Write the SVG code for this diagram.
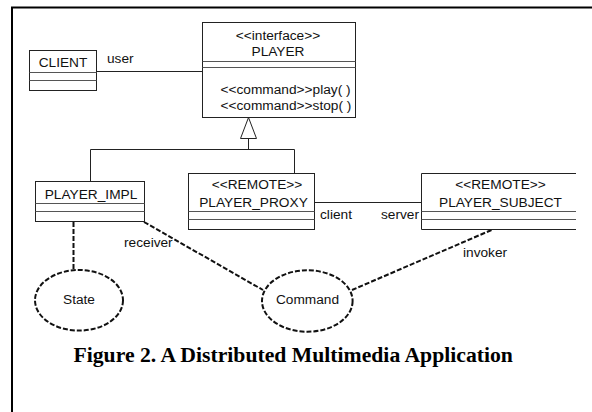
<svg xmlns="http://www.w3.org/2000/svg" width="592" height="412" viewBox="0 0 592 412">
<style>
.box{fill:#fff;stroke:#222;stroke-width:1}
.sep{stroke:#555;stroke-width:1}
.ln{stroke:#222;stroke-width:1;fill:none}
.dash{stroke:#111;stroke-width:2;fill:none;stroke-dasharray:5,2}
.t{font-family:"Liberation Sans",Arial,sans-serif;font-size:13.7px;fill:#111}
.c{text-anchor:middle}
.cap{font-family:"Liberation Serif","Times New Roman",serif;font-weight:bold;font-size:21.7px;fill:#000}
</style>
<rect width="592" height="412" fill="#fff"/>
<path d="M12,412 V7.5 H592" fill="none" stroke="#000" stroke-width="2"/>

<g id="connectors">
<line class="ln" x1="96.5" y1="71.5" x2="202.5" y2="71.5"/>
<polygon points="248.5,117.5 240.5,138.5 256.5,138.5" fill="#fff" stroke="#222" stroke-width="1"/>
<polyline class="ln" points="248.5,138.5 248.5,149.5"/>
<polyline class="ln" points="90.5,181.5 90.5,149.5 294.5,149.5 294.5,173.5"/>
<line class="ln" x1="314.5" y1="202.5" x2="421.5" y2="202.5"/>
<line class="dash" x1="73.5" y1="222" x2="73.5" y2="270"/>
<line class="dash" x1="144" y1="222" x2="263" y2="290"/>
<line class="dash" x1="491.5" y1="230" x2="352" y2="290"/>
<text class="t" x="107" y="63">user</text>
<text class="t" x="320" y="219">client</text>
<text class="t" x="381" y="219">server</text>
<text class="t" x="124" y="247">receiver</text>
<text class="t" x="463" y="256.5">invoker</text>
</g>

<g id="client">
<rect class="box" x="29.5" y="50.5" width="67" height="40"/>
<line class="sep" x1="29.5" y1="72.5" x2="96.5" y2="72.5"/>
<line class="sep" x1="29.5" y1="80.5" x2="96.5" y2="80.5"/>
<text class="t c" x="63" y="67">CLIENT</text>
</g>

<g id="player">
<rect class="box" x="202.5" y="22.5" width="153" height="95"/>
<line class="sep" x1="202.5" y1="61.5" x2="355.5" y2="61.5"/>
<line class="sep" x1="202.5" y1="67.5" x2="355.5" y2="67.5"/>
<text class="t c" x="278" y="39.5">&lt;&lt;interface&gt;&gt;</text>
<text class="t c" x="278" y="55.5">PLAYER</text>
<text class="t" x="220.5" y="93.5">&lt;&lt;command&gt;&gt;play( )</text>
<text class="t" x="220.5" y="110">&lt;&lt;command&gt;&gt;stop( )</text>
</g>

<g id="player_impl">
<rect class="box" x="35.5" y="181.5" width="109" height="40"/>
<line class="sep" x1="35.5" y1="203.5" x2="144.5" y2="203.5"/>
<line class="sep" x1="35.5" y1="211.5" x2="144.5" y2="211.5"/>
<text class="t c" x="91" y="199">PLAYER_IMPL</text>
</g>

<g id="player_proxy">
<rect class="box" x="188.5" y="173.5" width="126" height="56"/>
<line class="sep" x1="188.5" y1="211.5" x2="314.5" y2="211.5"/>
<line class="sep" x1="188.5" y1="219.5" x2="314.5" y2="219.5"/>
<text class="t c" x="257" y="189">&lt;&lt;REMOTE&gt;&gt;</text>
<text class="t c" x="253.5" y="206.5">PLAYER_PROXY</text>
</g>

<g id="player_subject">
<rect x="421.5" y="173.5" width="155" height="56" fill="#fff"/>
<polyline class="ln" points="576,173.5 421.5,173.5 421.5,229.5 576,229.5"/>
<line class="sep" x1="421.5" y1="211.5" x2="576" y2="211.5"/>
<line class="sep" x1="421.5" y1="219.5" x2="576" y2="219.5"/>
<text class="t c" x="500.5" y="188.5">&lt;&lt;REMOTE&gt;&gt;</text>
<text class="t c" x="500.5" y="206.5">PLAYER_SUBJECT</text>
</g>

<g id="state">
<ellipse class="dash" cx="79" cy="300.3" rx="44" ry="30.3" fill="#fff"/>
<text class="t c" x="79" y="303.5">State</text>
</g>

<g id="command">
<ellipse class="dash" cx="307.3" cy="301" rx="45.3" ry="30.7" fill="#fff"/>
<text class="t c" x="307.5" y="303.5">Command</text>
</g>

<text class="cap" x="73.5" y="361.5">Figure 2. A Distributed Multimedia Application</text>
</svg>
